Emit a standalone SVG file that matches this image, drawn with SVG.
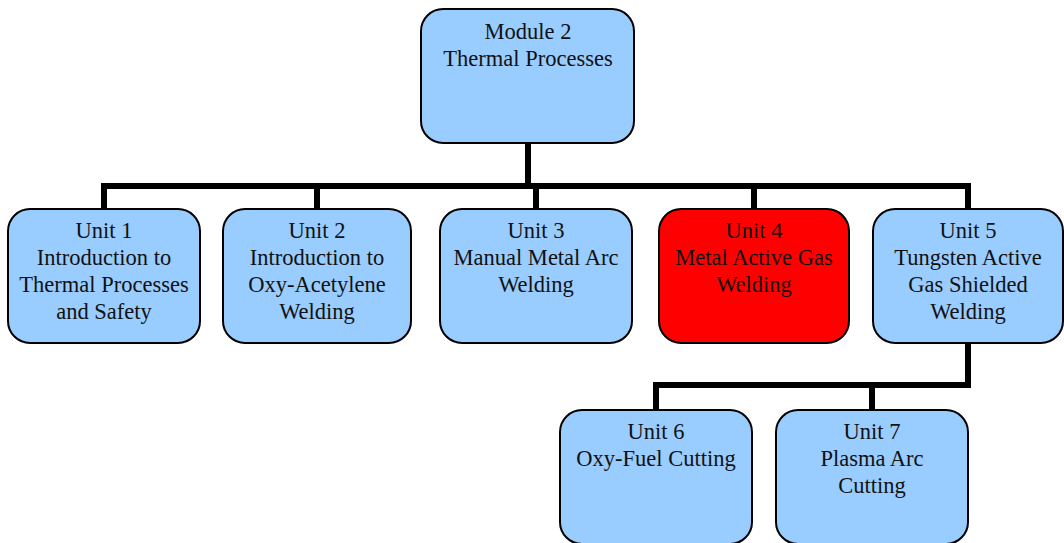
<svg xmlns="http://www.w3.org/2000/svg" width="1064" height="543" viewBox="0 0 1064 543">
<style>
.n{fill:#99CCFF;stroke:#000;stroke-width:2}
.r{fill:#FF0000;stroke:#000;stroke-width:2}
.t{font-family:"Liberation Serif",serif;font-size:22.5px;fill:#111;text-anchor:middle}
.c{fill:none;stroke:#000;stroke-width:6}
</style>
<rect width="1064" height="543" fill="#fff"/>
<g id="connectors">
<path class="c" d="M528 143V186M104 209V186H968V209M317 186V209M536 186V209M754 186V209"/>
<path class="c" d="M968 343V385H656V410M872 385V410"/>
</g>
<g id="module2"><rect class="n" x="421" y="9" width="213" height="134" rx="22"/>
<text class="t" x="528" y="39">Module 2</text><text class="t" x="528" y="66">Thermal Processes</text></g>
<g id="unit1"><rect class="n" x="8" y="209" width="192" height="134" rx="22"/>
<text class="t" x="104" y="238">Unit 1</text><text class="t" x="104" y="265">Introduction to</text><text class="t" x="104" y="292">Thermal Processes</text><text class="t" x="104" y="319">and Safety</text></g>
<g id="unit2"><rect class="n" x="223" y="209" width="188" height="134" rx="22"/>
<text class="t" x="317" y="238">Unit 2</text><text class="t" x="317" y="265">Introduction to</text><text class="t" x="317" y="292">Oxy-Acetylene</text><text class="t" x="317" y="319">Welding</text></g>
<g id="unit3"><rect class="n" x="440" y="209" width="192" height="134" rx="22"/>
<text class="t" x="536" y="238">Unit 3</text><text class="t" x="536" y="265">Manual Metal Arc</text><text class="t" x="536" y="292">Welding</text></g>
<g id="unit4"><rect class="r" x="659" y="209" width="190" height="134" rx="22"/>
<text class="t" x="754" y="238">Unit 4</text><text class="t" x="754" y="265">Metal Active Gas</text><text class="t" x="754" y="292">Welding</text></g>
<g id="unit5"><rect class="n" x="873" y="209" width="190" height="134" rx="22"/>
<text class="t" x="968" y="238">Unit 5</text><text class="t" x="968" y="265">Tungsten Active</text><text class="t" x="968" y="292">Gas Shielded</text><text class="t" x="968" y="319">Welding</text></g>
<g id="unit6"><rect class="n" x="560" y="410" width="192" height="134" rx="22"/>
<text class="t" x="656" y="439">Unit 6</text><text class="t" x="656" y="466">Oxy-Fuel Cutting</text></g>
<g id="unit7"><rect class="n" x="776" y="410" width="192" height="134" rx="22"/>
<text class="t" x="872" y="439">Unit 7</text><text class="t" x="872" y="466">Plasma Arc</text><text class="t" x="872" y="493">Cutting</text></g>
</svg>
